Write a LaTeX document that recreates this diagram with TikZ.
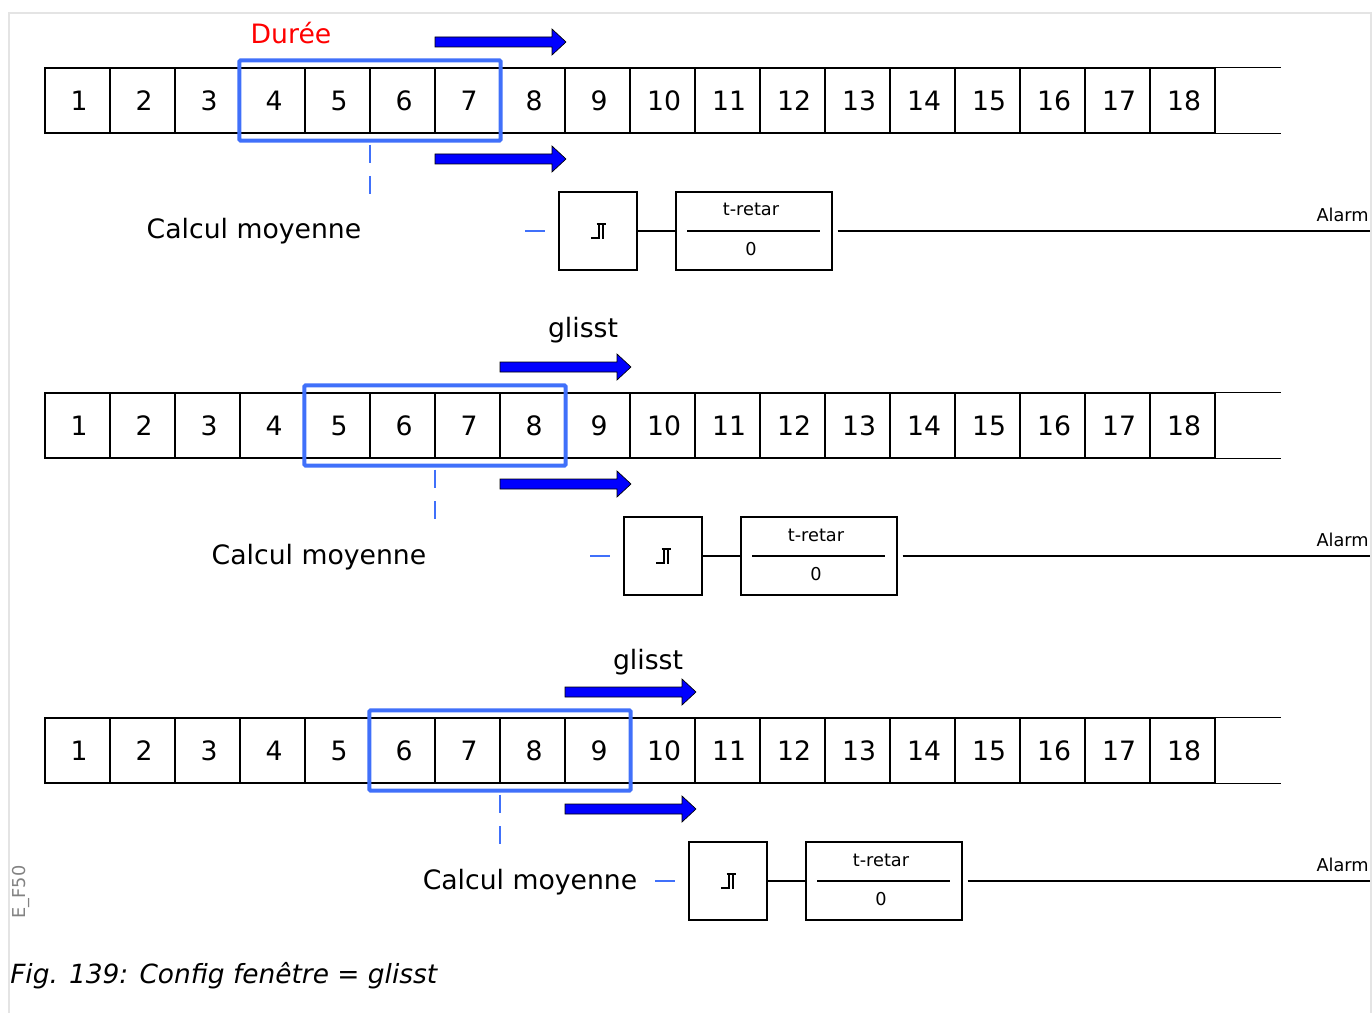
\documentclass[tikz,border=0pt]{standalone}
\usepackage{fontspec}
\setmainfont{DejaVu Sans}
\usetikzlibrary{fit}
\definecolor{winblue}{RGB}{64,112,250}
\definecolor{arrblue}{RGB}{0,0,255}
\definecolor{framegray}{RGB}{228,228,228}
\definecolor{labelgray}{RGB}{130,130,130}
\tikzset{
  bigtext/.style={font=\fontsize{20}{24}\selectfont, inner sep=0pt},
  smalltext/.style={font=\fontsize{13.3}{16}\selectfont, inner sep=0pt},
  cell/.style={draw, line width=1pt, minimum width=48.75pt, minimum height=48.75pt, inner sep=0pt},
  winframe/.style={draw=winblue, line width=3pt, rounded corners=1pt, inner xsep=0pt, inner ysep=5.25pt},
  windash/.style={draw=winblue, line width=1.5pt, dash pattern=on 13.5pt off 10pt},
  shortblue/.style={draw=winblue, line width=1.5pt},
  bigarrow/.style={fill=arrblue, draw=black, line width=0.5pt},
  stepbox/.style={draw, line width=1pt, minimum width=58.5pt, minimum height=58.5pt, inner sep=0pt},
  delaybox/.style={draw, line width=1pt, minimum width=117pt, minimum height=58.5pt, inner sep=0pt},
  wire/.style={line width=1pt},
}
\begin{document}
\begin{tikzpicture}[x=0.75pt,y=-0.75pt]
\useasboundingbox (0,0) rectangle (1372,1013);
\draw[framegray, line width=1pt] (9,1013) -- (9,13) -- (1371,13) -- (1371,1013);

\node[bigtext, text=red, anchor=base] (duree) at (291,44) {Durée};
\node[bigtext, anchor=base] (gl1) at (583,337) {glisst};
\node[bigtext, anchor=base] (gl2) at (648,669) {glisst};

\foreach \r/\s/\e/\cmx in {0/4/7/254, 1/5/8/319, 2/6/9/530} {
  \pgfmathsetmacro{\oy}{325*\r}
  \pgfmathsetmacro{\dx}{65*\r}
  % cells
  \foreach \i in {1,...,18} {
    \node[cell] (n\r-\i) at ({45+65*(\i-0.5)},{100.5+\oy}) {};
    \node[bigtext] (t\r-\i) at ([xshift=1.2pt]n\r-\i.center) {\i};
  }
  \draw[wire] (n\r-18.north east) -- ++(65,0);
  \draw[wire] (n\r-18.south east) -- ++(65,0);
  % sliding window
  \node[winframe, fit=(n\r-\s)(n\r-\e)] (w\r) {};
  \coordinate (dend\r) at ([yshift=-53*0.75pt]w\r.south);
  \draw[windash] ([yshift=-1.5pt]w\r.south) -- (dend\r);
  % arrows
  \foreach \ay in {42,159} {
    \draw[bigarrow] ({435+\dx},{\ay+\oy-5}) -- ++(117,0) -- ++(0,-8) -- ++(14,13)
      -- ++(-14,13) -- ++(0,-8) -- ++(-117,0) -- cycle;
  }
  % average label
  \node[bigtext, anchor=base] (cm\r) at ({\cmx},{239+\oy}) {Calcul moyenne};
  % step and delay boxes
  \node[stepbox] (st\r) at ({598+\dx},{231+\oy}) {};
  \node[delaybox] (td\r) at ({754+\dx},{231+\oy}) {};
  \draw[shortblue] ([xshift=-33*0.75pt]st\r.west) -- ([xshift=-13*0.75pt]st\r.west);
  \draw[line width=1.5pt] ([shift={(-7,7)}]st\r.center) -- ++(8.5,0)
    ([shift={(0.5,7.7)}]st\r.center) -- ++(0,-15.4)
    ([shift={(-1.5,-7)}]st\r.center) -- ++(9.5,0)
    ([shift={(5,-7)}]st\r.center) -- ++(0,14.7);
  \draw[wire] ([xshift=12*0.75pt]td\r.west) -- ([xshift=-13*0.75pt]td\r.east);
  \node[smalltext, anchor=base] (tl\r) at ({751+\dx},{216+\oy}) {t-retar};
  \node[smalltext, anchor=base] (tz\r) at ({751+\dx},{255.5+\oy}) {0};
  \draw[wire] (st\r) -- (td\r);
  \coordinate (al\r) at (1370,{231+\oy});
  \draw[wire] ([xshift=3.75pt]td\r.east) -- (al\r);
  \node[smalltext, anchor=base east] (alarm\r) at (1369,{221.5+\oy}) {Alarm};
}

\node[smalltext, text=labelgray, rotate=90] (ef) at (21,892) {E\_F50};
\node[anchor=base west, inner sep=0pt, font=\fontsize{19.8}{24}\selectfont\itshape] (cap) at (10,983) {Fig. 139: Config fenêtre = glisst};
\end{tikzpicture}
\end{document}
